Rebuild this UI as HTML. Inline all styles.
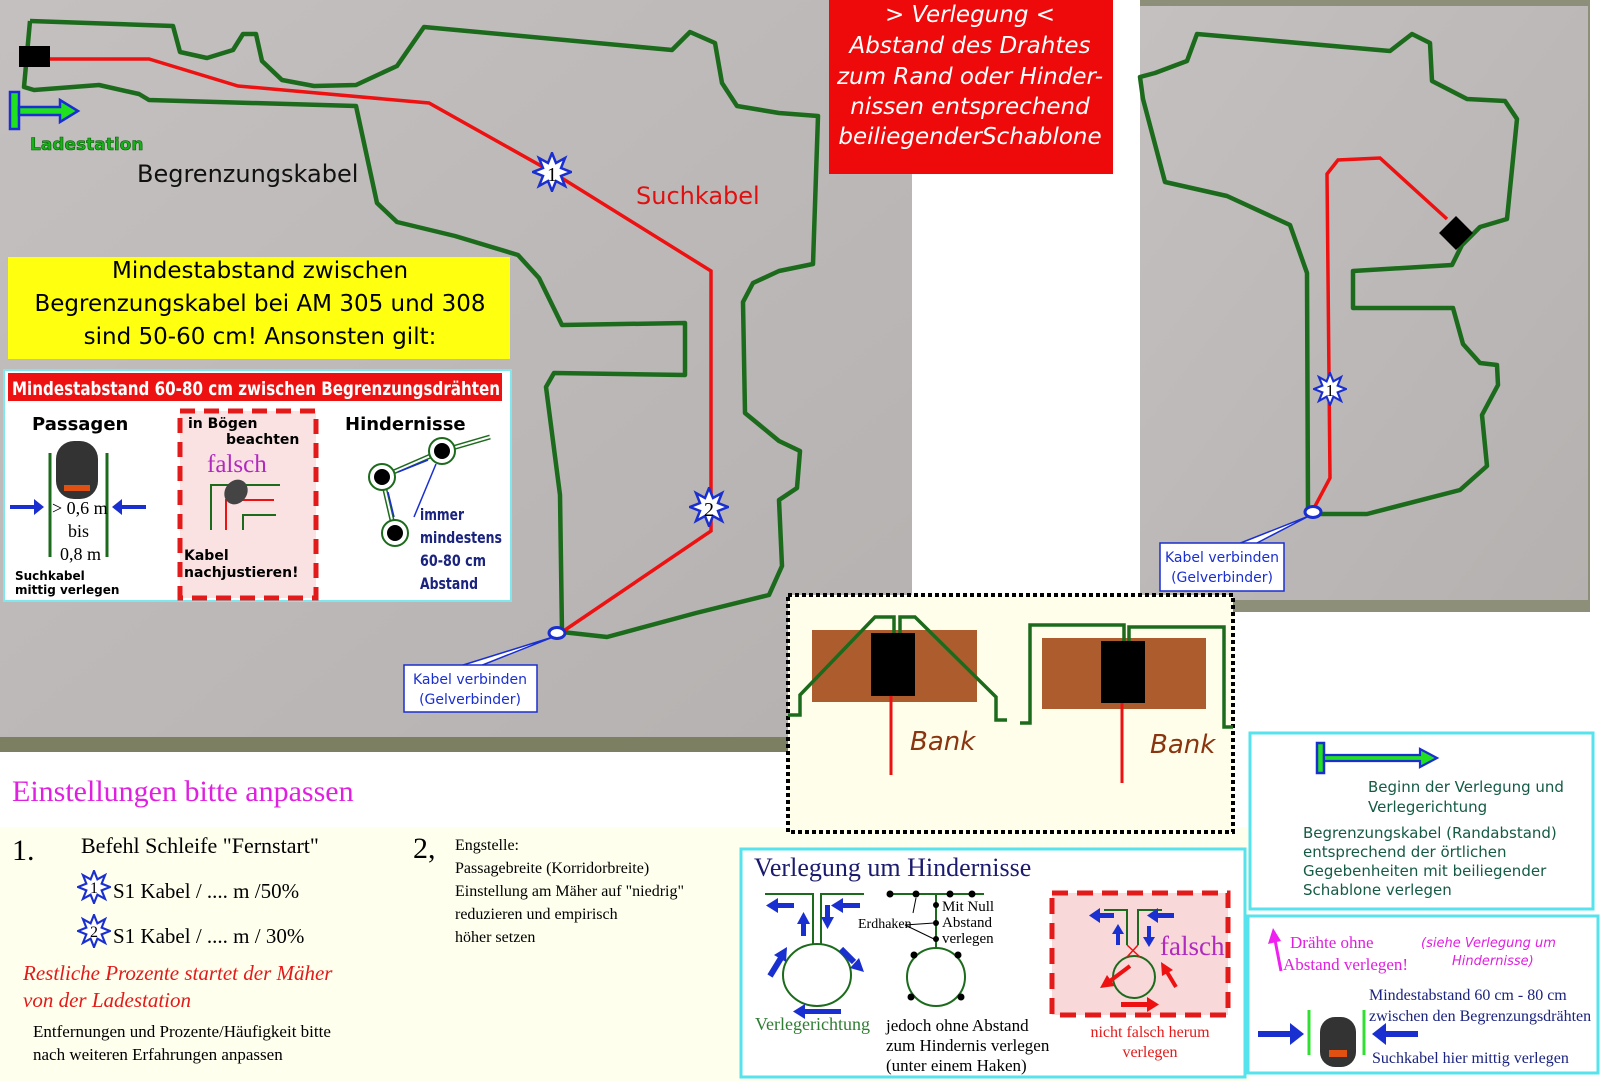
<!DOCTYPE html>
<html><head><meta charset="utf-8"><style>
html,body{margin:0;padding:0;background:#fff;width:1600px;height:1081px;overflow:hidden}
svg{display:block}
.s{font-family:"DejaVu Sans","Liberation Sans",sans-serif}
.r{font-family:"Liberation Serif",serif}
</style></head><body>
<svg width="1600" height="1081" viewBox="0 0 1600 1081" xmlns="http://www.w3.org/2000/svg">
<defs>
<linearGradient id="pg" x1="0" y1="0" x2="1" y2="1"><stop offset="0" stop-color="#c4c0c0"/><stop offset="1" stop-color="#b5b1b0"/></linearGradient>
<symbol id="star" viewBox="-20 -20 40 40"><polygon points="0,-19 4,-9 13,-14 9,-4 19,0 9,4 13,14 4,9 0,19 -4,9 -13,14 -9,4 -19,0 -9,-4 -13,-14 -4,-9" fill="#fff" stroke="#1a2fd0" stroke-width="2.5"/></symbol>
</defs>
<rect x="0" y="0" width="912" height="752" fill="url(#pg)"/>
<rect x="0" y="737" width="912" height="15" fill="#7d7f63"/>
<rect x="1140" y="0" width="450" height="612" fill="#8e8f78"/>
<rect x="1140" y="6" width="448" height="594" fill="url(#pg)"/>
<rect x="0" y="827" width="1250" height="254" fill="#ffffee"/>
<polyline fill="none" stroke="#1c6b1c" stroke-width="4.5" stroke-linejoin="round" points="30,21 173,26 180,52 207,58 233,50 243,34 256,34 262,61 282,80 314,86 356,85 397,66 424,27 672,50 690,32 715,43 722,83 737,106 779,113 818,116 813,264 779,271 753,283 743,302 745,413 779,441 800,451 797,488 779,500 782,566 769,595 696,613 607,637 562,632 560,495 546,387 554,373 685,375 685,323 562,325 539,278 518,255 455,236 397,222 377,203 356,106 149,100 139,94 99,85 34,90 24,87 30,21"/>
<polyline fill="none" stroke="#ee1111" stroke-width="3.5" points="50,59 149,59 238,86 429,103 552,172 711,271 711,531 565,630"/>
<rect x="19" y="46" width="31" height="21" fill="#000"/>
<use href="#star" x="532" y="152" width="40" height="40"/>
<text x="552" y="181" class="r" font-size="20" text-anchor="middle">1</text>
<use href="#star" x="689" y="487" width="40" height="40"/>
<text x="709" y="516" class="r" font-size="20" text-anchor="middle">2</text>
<ellipse cx="557" cy="633" rx="8" ry="5.5" fill="#fff" stroke="#1a2fd0" stroke-width="3"/>
<polygon points="553,637 460,666 480,666" fill="#fff" stroke="#1a2fd0" stroke-width="1.5"/>
<rect x="404" y="665" width="133" height="47" fill="#fff" stroke="#1a2fd0" stroke-width="1.5"/>
<text x="470" y="684" class="s" font-size="14" fill="#1a2fd0" text-anchor="middle">Kabel verbinden</text>
<text x="470" y="704" class="s" font-size="14" fill="#1a2fd0" text-anchor="middle">(Gelverbinder)</text>
<rect x="10" y="92" width="9" height="37" fill="#20e020" stroke="#1a2fd0" stroke-width="2.5"/>
<polygon points="19,107 60,107 60,100 78,111 60,122 60,115 19,115" fill="#20e020" stroke="#1a2fd0" stroke-width="2.5"/>
<text x="30" y="150" class="s" font-size="17" font-weight="bold" fill="#18b018" stroke="#0a5a0a" stroke-width="0.6">Ladestation</text>
<text x="137" y="182" class="s" font-size="24" fill="#111">Begrenzungskabel</text>
<text x="636" y="204" class="s" font-size="24" fill="#e01010">Suchkabel</text>
<rect x="8" y="257" width="502" height="102" fill="#ffff10"/>
<text x="260" y="278" class="s" font-size="23" text-anchor="middle">Mindestabstand zwischen</text>
<text x="260" y="311" class="s" font-size="23" text-anchor="middle">Begrenzungskabel bei AM 305 und 308</text>
<text x="260" y="344" class="s" font-size="23" text-anchor="middle">sind 50-60 cm! Ansonsten gilt:</text>
<rect x="4" y="370" width="507" height="231" fill="#fff" stroke="#7fe7ee" stroke-width="2"/>
<rect x="8" y="373" width="494" height="28" fill="#ee1111"/>
<text x="12" y="395" class="s" font-size="19" font-weight="bold" fill="#fff" textLength="488" lengthAdjust="spacingAndGlyphs">Mindestabstand 60-80 cm zwischen Begrenzungsdrähten</text>
<text x="32" y="430" class="s" font-size="18" font-weight="bold">Passagen</text>
<line x1="50" y1="453" x2="50" y2="557" stroke="#1c6b1c" stroke-width="3"/>
<line x1="107" y1="453" x2="107" y2="557" stroke="#1c6b1c" stroke-width="3"/>
<rect x="56" y="441" width="42" height="58" rx="18" fill="#333"/>
<rect x="64" y="485" width="26" height="6" fill="#e05010"/>
<polygon points="10,505 34,505 34,499 44,507 34,515 34,509 10,509" fill="#1a2fd0"/>
<polygon points="146,505 122,505 122,499 112,507 122,515 122,509 146,509" fill="#1a2fd0"/>
<text x="52" y="514" class="r" font-size="18">&gt; 0,6 m</text>
<text x="68" y="537" class="r" font-size="18">bis</text>
<text x="60" y="560" class="r" font-size="18">0,8 m</text>
<text x="15" y="580" class="s" font-size="12" font-weight="bold">Suchkabel</text>
<text x="15" y="594" class="s" font-size="12" font-weight="bold">mittig verlegen</text>
<rect x="180" y="411" width="136" height="187" fill="#fbe2e2" stroke="#e31a1a" stroke-width="5" stroke-dasharray="15,9"/>
<text x="188" y="428" class="s" font-size="14" font-weight="bold">in Bögen</text>
<text x="226" y="444" class="s" font-size="14" font-weight="bold">beachten</text>
<text x="207" y="472" class="r" font-size="25" fill="#b02ac0">falsch</text>
<polyline points="211,530 211,485 280,485" fill="none" stroke="#1c6b1c" stroke-width="2"/>
<polyline points="243,530 243,515 276,515" fill="none" stroke="#1c6b1c" stroke-width="2"/>
<polyline points="226,530 226,500 274,500" fill="none" stroke="#ee1111" stroke-width="2"/>
<ellipse cx="236" cy="492" rx="11" ry="13" fill="#444" transform="rotate(35 236 492)"/>
<text x="184" y="560" class="s" font-size="14" font-weight="bold">Kabel</text>
<text x="184" y="577" class="s" font-size="14" font-weight="bold">nachjustieren!</text>
<text x="345" y="430" class="s" font-size="18" font-weight="bold">Hindernisse</text>
<polyline points="382,477 442,451 490,437" fill="none" stroke="#1c6b1c" stroke-width="5"/>
<polyline points="382,477 442,451 490,437" fill="none" stroke="#fff" stroke-width="2"/>
<line x1="382" y1="477" x2="395" y2="533" stroke="#1c6b1c" stroke-width="5"/>
<line x1="382" y1="477" x2="395" y2="533" stroke="#fff" stroke-width="2"/>
<circle cx="382" cy="477" r="13" fill="#fff" stroke="#1c6b1c" stroke-width="2"/><circle cx="382" cy="477" r="8"/>
<circle cx="442" cy="451" r="13" fill="#fff" stroke="#1c6b1c" stroke-width="2"/><circle cx="442" cy="451" r="8"/>
<circle cx="395" cy="533" r="13" fill="#fff" stroke="#1c6b1c" stroke-width="2"/><circle cx="395" cy="533" r="8"/>
<line x1="398" y1="472" x2="428" y2="460" stroke="#1a2fd0" stroke-width="1.5"/>
<line x1="436" y1="464" x2="414" y2="517" stroke="#1a2fd0" stroke-width="1.5"/>
<line x1="388" y1="492" x2="394" y2="517" stroke="#1a2fd0" stroke-width="1.5"/>
<g class="s" font-size="16" font-weight="bold" fill="#1a237e"><text x="420" y="520" textLength="44" lengthAdjust="spacingAndGlyphs">immer</text><text x="420" y="543" textLength="82" lengthAdjust="spacingAndGlyphs">mindestens</text><text x="420" y="566" textLength="66" lengthAdjust="spacingAndGlyphs">60-80 cm</text><text x="420" y="589" textLength="58" lengthAdjust="spacingAndGlyphs">Abstand</text></g>
<rect x="829" y="0" width="284" height="174" fill="#ee0a0a"/>
<g class="s" font-size="23" font-style="italic" fill="#fff" text-anchor="middle">
<text x="970" y="22">&gt; Verlegung &lt;</text>
<text x="970" y="53">Abstand des Drahtes</text>
<text x="970" y="84">zum Rand oder Hinder-</text>
<text x="970" y="114">nissen entsprechend</text>
<text x="970" y="144">beiliegenderSchablone</text>
</g>
<polygon fill="none" stroke="#1c6b1c" stroke-width="4.5" stroke-linejoin="round" points="1140,77 1155,73 1187,61 1197,34 1390,51 1412,34 1430,43 1432,81 1467,99 1505,101 1517,119 1507,219 1480,227 1462,245 1452,265 1353,271 1353,308 1453,308 1463,344 1480,363 1497,365 1498,385 1482,415 1487,466 1460,490 1367,514 1308,514 1307,273 1290,225 1227,196 1165,182 1143,99"/>
<polyline fill="none" stroke="#ee1111" stroke-width="3.5" points="1313,510 1330,478 1327,174 1338,160 1380,158 1447,219"/>
<rect x="1444" y="221" width="24" height="24" fill="#000" transform="rotate(45 1456 233)"/>
<use href="#star" x="1313" y="372" width="34" height="34"/>
<text x="1330" y="396" class="r" font-size="17" text-anchor="middle">1</text>
<ellipse cx="1313" cy="512" rx="8" ry="5.5" fill="#fff" stroke="#1a2fd0" stroke-width="3"/>
<polygon points="1309,516 1238,544 1255,544" fill="#fff" stroke="#1a2fd0" stroke-width="1.5"/>
<rect x="1160" y="543" width="124" height="48" fill="#fff" stroke="#1a2fd0" stroke-width="1.5"/>
<text x="1222" y="562" class="s" font-size="14" fill="#1a2fd0" text-anchor="middle">Kabel verbinden</text>
<text x="1222" y="582" class="s" font-size="14" fill="#1a2fd0" text-anchor="middle">(Gelverbinder)</text>
<rect x="788" y="595" width="445" height="237" fill="#fffeea" stroke="#000" stroke-width="4" stroke-dasharray="4,3"/>
<rect x="812" y="630" width="165" height="72" fill="#ad5c2e"/>
<rect x="871" y="633" width="44" height="63" fill="#000"/>
<line x1="891" y1="696" x2="891" y2="775" stroke="#ee1111" stroke-width="3"/>
<polyline fill="none" stroke="#1c6b1c" stroke-width="3.5" points="788,715 800,715 800,695 875,617 894,617 894,633"/>
<polyline fill="none" stroke="#1c6b1c" stroke-width="3.5" points="900,633 900,617 915,617 996,697 996,720 1007,720"/>
<text x="910" y="750" class="s" font-size="26" font-style="italic" fill="#8a3510">Bank</text>
<rect x="1042" y="638" width="164" height="71" fill="#ad5c2e"/>
<rect x="1101" y="641" width="44" height="62" fill="#000"/>
<line x1="1122" y1="703" x2="1122" y2="783" stroke="#ee1111" stroke-width="3"/>
<polyline fill="none" stroke="#1c6b1c" stroke-width="3.5" points="1020,723 1030,723 1030,625 1124,625 1124,641"/>
<polyline fill="none" stroke="#1c6b1c" stroke-width="3.5" points="1129,641 1129,627 1224,627 1224,727 1233,727"/>
<text x="1150" y="753" class="s" font-size="26" font-style="italic" fill="#8a3510">Bank</text>
<rect x="1250" y="733" width="343" height="176" fill="#fff" stroke="#56e3ee" stroke-width="3"/>
<rect x="1317" y="743" width="7" height="30" fill="#20e020" stroke="#1a2fd0" stroke-width="2.5"/>
<polygon points="1324,755 1420,755 1420,749 1437,758 1420,767 1420,761 1324,761" fill="#20e020" stroke="#1a2fd0" stroke-width="2.2"/>
<g class="s" font-size="15" fill="#145a45">
<text x="1368" y="792">Beginn der Verlegung und</text>
<text x="1368" y="812">Verlegerichtung</text>
<text x="1303" y="838">Begrenzungskabel (Randabstand)</text>
<text x="1303" y="857">entsprechend der örtlichen</text>
<text x="1303" y="876">Gegebenheiten mit beiliegender</text>
<text x="1303" y="895">Schablone verlegen</text>
</g>
<rect x="1248" y="916" width="350" height="157" fill="#fff" stroke="#56e3ee" stroke-width="3"/>
<line x1="1281" y1="971" x2="1275" y2="940" stroke="#f020f0" stroke-width="3"/>
<polygon points="1273,928 1268,944 1281,941" fill="#f020f0"/>
<text x="1290" y="948" class="r" font-size="17" fill="#e020e0">Drähte ohne</text>
<text x="1283" y="970" class="r" font-size="17" fill="#e020e0">Abstand verlegen!</text>
<text x="1421" y="947" class="s" font-size="13" font-style="italic" fill="#e020e0">(siehe Verlegung um</text>
<text x="1452" y="965" class="s" font-size="13" font-style="italic" fill="#e020e0">Hindernisse)</text>
<text x="1369" y="1000" class="r" font-size="16" fill="#1a237e">Mindestabstand 60 cm - 80 cm</text>
<text x="1369" y="1021" class="r" font-size="16" fill="#1a237e">zwischen den Begrenzungsdrähten</text>
<text x="1372" y="1063" class="r" font-size="16" fill="#1a237e">Suchkabel hier mittig verlegen</text>
<line x1="1309" y1="1010" x2="1309" y2="1055" stroke="#30e030" stroke-width="3"/>
<line x1="1364" y1="1010" x2="1364" y2="1055" stroke="#30e030" stroke-width="3"/>
<rect x="1320" y="1017" width="36" height="50" rx="15" fill="#333"/>
<rect x="1329" y="1050" width="18" height="7" fill="#e05010"/>
<polygon points="1258,1031 1290,1031 1290,1023 1304,1034 1290,1045 1290,1037 1258,1037" fill="#1a2fd0"/>
<polygon points="1418,1031 1386,1031 1386,1023 1372,1034 1386,1045 1386,1037 1418,1037" fill="#1a2fd0"/>
<!-- hindernisse box -->
<rect x="741" y="849" width="504" height="228" fill="#fff" stroke="#56e3ee" stroke-width="3"/>
<text x="754" y="876" class="r" font-size="26" fill="#1a1a6e">Verlegung um Hindernisse</text>
<polyline fill="none" stroke="#1c6b1c" stroke-width="2" points="765,894 813,894 813,945"/>
<polyline fill="none" stroke="#1c6b1c" stroke-width="2" points="864,894 821,894 821,945"/>
<ellipse cx="817" cy="975" rx="34" ry="31" fill="none" stroke="#1c6b1c" stroke-width="2"/>
<g fill="#1a2fd0">
<rect x="778" y="903" width="16" height="5"/><polygon points="778,898 766,905.5 778,913"/>
<rect x="843" y="903" width="17" height="5"/><polygon points="843,898 831,905.5 843,913"/>
<rect x="801" y="922" width="5" height="14"/><polygon points="797,924 803.5,912 810,924"/>
<rect x="825" y="905" width="5" height="14"/><polygon points="821,917 827.5,929 834,917"/>
<rect x="805" y="1009" width="36" height="5"/><polygon points="805,1004 793,1011.5 805,1019"/>
</g>
<line x1="770" y1="976" x2="781" y2="958" stroke="#1a2fd0" stroke-width="6"/>
<polygon points="787,947 774,955 786,962" fill="#1a2fd0"/>
<line x1="841" y1="949" x2="854" y2="962" stroke="#1a2fd0" stroke-width="6"/>
<polygon points="864,972 850,968 859,958" fill="#1a2fd0"/>
<text x="755" y="1030" class="r" font-size="18" fill="#2e7d32">Verlegerichtung</text>
<line x1="888" y1="894" x2="984" y2="894" stroke="#1c6b1c" stroke-width="2"/>
<line x1="936" y1="894" x2="936" y2="948" stroke="#1c6b1c" stroke-width="2"/>
<ellipse cx="936" cy="977" rx="29" ry="29" fill="none" stroke="#1c6b1c" stroke-width="2"/>
<g fill="#000"><circle cx="890" cy="894" r="3.5"/><circle cx="916" cy="894" r="3.5"/><circle cx="950" cy="894" r="3.5"/><circle cx="972" cy="894" r="3.5"/><circle cx="936" cy="905" r="3"/><circle cx="936" cy="923" r="3"/><circle cx="936" cy="939" r="3"/><circle cx="914" cy="955" r="3.5"/><circle cx="958" cy="955" r="3.5"/><circle cx="911" cy="997" r="3.5"/><circle cx="961" cy="997" r="3.5"/></g>
<line x1="916" y1="898" x2="913" y2="913" stroke="#000" stroke-width="1"/>
<line x1="905" y1="925" x2="934" y2="923" stroke="#000" stroke-width="1"/>
<line x1="905" y1="925" x2="934" y2="939" stroke="#000" stroke-width="1"/>
<g class="r" font-size="15"><text x="942" y="911">Mit Null</text><text x="942" y="927">Abstand</text><text x="942" y="943">verlegen</text><text x="858" y="928" font-size="14">Erdhaken</text></g>
<g class="r" font-size="17"><text x="886" y="1031">jedoch ohne Abstand</text><text x="886" y="1051">zum Hindernis verlegen</text><text x="886" y="1071">(unter einem Haken)</text></g>
<rect x="1052" y="893" width="176" height="122" fill="#f8d8d8" stroke="#e31a1a" stroke-width="5" stroke-dasharray="16,9"/>
<polyline fill="none" stroke="#1c6b1c" stroke-width="2" points="1104,910 1127,910 1127,945"/>
<polyline fill="none" stroke="#1c6b1c" stroke-width="2" points="1162,910 1138,910 1138,945"/>
<ellipse cx="1134" cy="977" rx="21" ry="21" fill="none" stroke="#1c6b1c" stroke-width="2"/>
<line x1="1127" y1="945" x2="1140" y2="957" stroke="#ee1111" stroke-width="1.5"/><line x1="1138" y1="945" x2="1127" y2="957" stroke="#ee1111" stroke-width="1.5"/>
<g fill="#1a2fd0"><rect x="1100" y="913" width="14" height="5"/><polygon points="1100,908 1089,915.5 1100,923"/><rect x="1158" y="913" width="16" height="5"/><polygon points="1158,908 1147,915.5 1158,923"/><rect x="1116" y="932" width="4" height="13"/><polygon points="1112,934 1118,924 1124,934"/><rect x="1147" y="926" width="4" height="13"/><polygon points="1143,937 1149,947 1155,937"/></g>
<g fill="#ee1111"><rect x="1121" y="1002" width="26" height="5"/><polygon points="1147,997 1159,1004.5 1147,1012"/></g>
<line x1="1130" y1="966" x2="1110" y2="981" stroke="#ee1111" stroke-width="4"/><polygon points="1100,988 1107,975 1115,986" fill="#ee1111"/>
<line x1="1176" y1="987" x2="1167" y2="972" stroke="#ee1111" stroke-width="4"/><polygon points="1161,962 1173,970 1162,976" fill="#ee1111"/>
<text x="1160" y="955" class="r" font-size="27" fill="#b02ac0">falsch</text>
<text x="1150" y="1037" class="r" font-size="16" fill="#e31a1a" text-anchor="middle">nicht falsch herum</text>
<text x="1150" y="1057" class="r" font-size="16" fill="#e31a1a" text-anchor="middle">verlegen</text>
<text x="12" y="801" class="r" font-size="30" fill="#e020e0">Einstellungen bitte anpassen</text>
<text x="12" y="860" class="r" font-size="30">1.</text>
<text x="81" y="853" class="r" font-size="22">Befehl Schleife "Fernstart"</text>
<use href="#star" x="77" y="870" width="34" height="34"/>
<text x="94" y="893" class="r" font-size="16" text-anchor="middle">1</text>
<text x="113" y="898" class="r" font-size="21">S1 Kabel / .... m /50%</text>
<use href="#star" x="77" y="914" width="34" height="34"/>
<text x="94" y="937" class="r" font-size="16" text-anchor="middle">2</text>
<text x="113" y="943" class="r" font-size="21">S1 Kabel / .... m / 30%</text>
<text x="23" y="980" class="r" font-size="21" font-style="italic" fill="#e31a1a">Restliche Prozente  startet der Mäher</text>
<text x="23" y="1007" class="r" font-size="21" font-style="italic" fill="#e31a1a">von der Ladestation</text>
<text x="33" y="1037" class="r" font-size="17">Entfernungen und Prozente/Häufigkeit bitte</text>
<text x="33" y="1060" class="r" font-size="17">nach weiteren Erfahrungen anpassen</text>
<text x="413" y="858" class="r" font-size="30">2,</text>
<g class="r" font-size="16"><text x="455" y="850">Engstelle:</text><text x="455" y="873">Passagebreite (Korridorbreite)</text><text x="455" y="896">Einstellung am Mäher auf "niedrig"</text><text x="455" y="919">reduzieren und empirisch</text><text x="455" y="942">höher setzen</text></g>
</svg>
</body></html>
